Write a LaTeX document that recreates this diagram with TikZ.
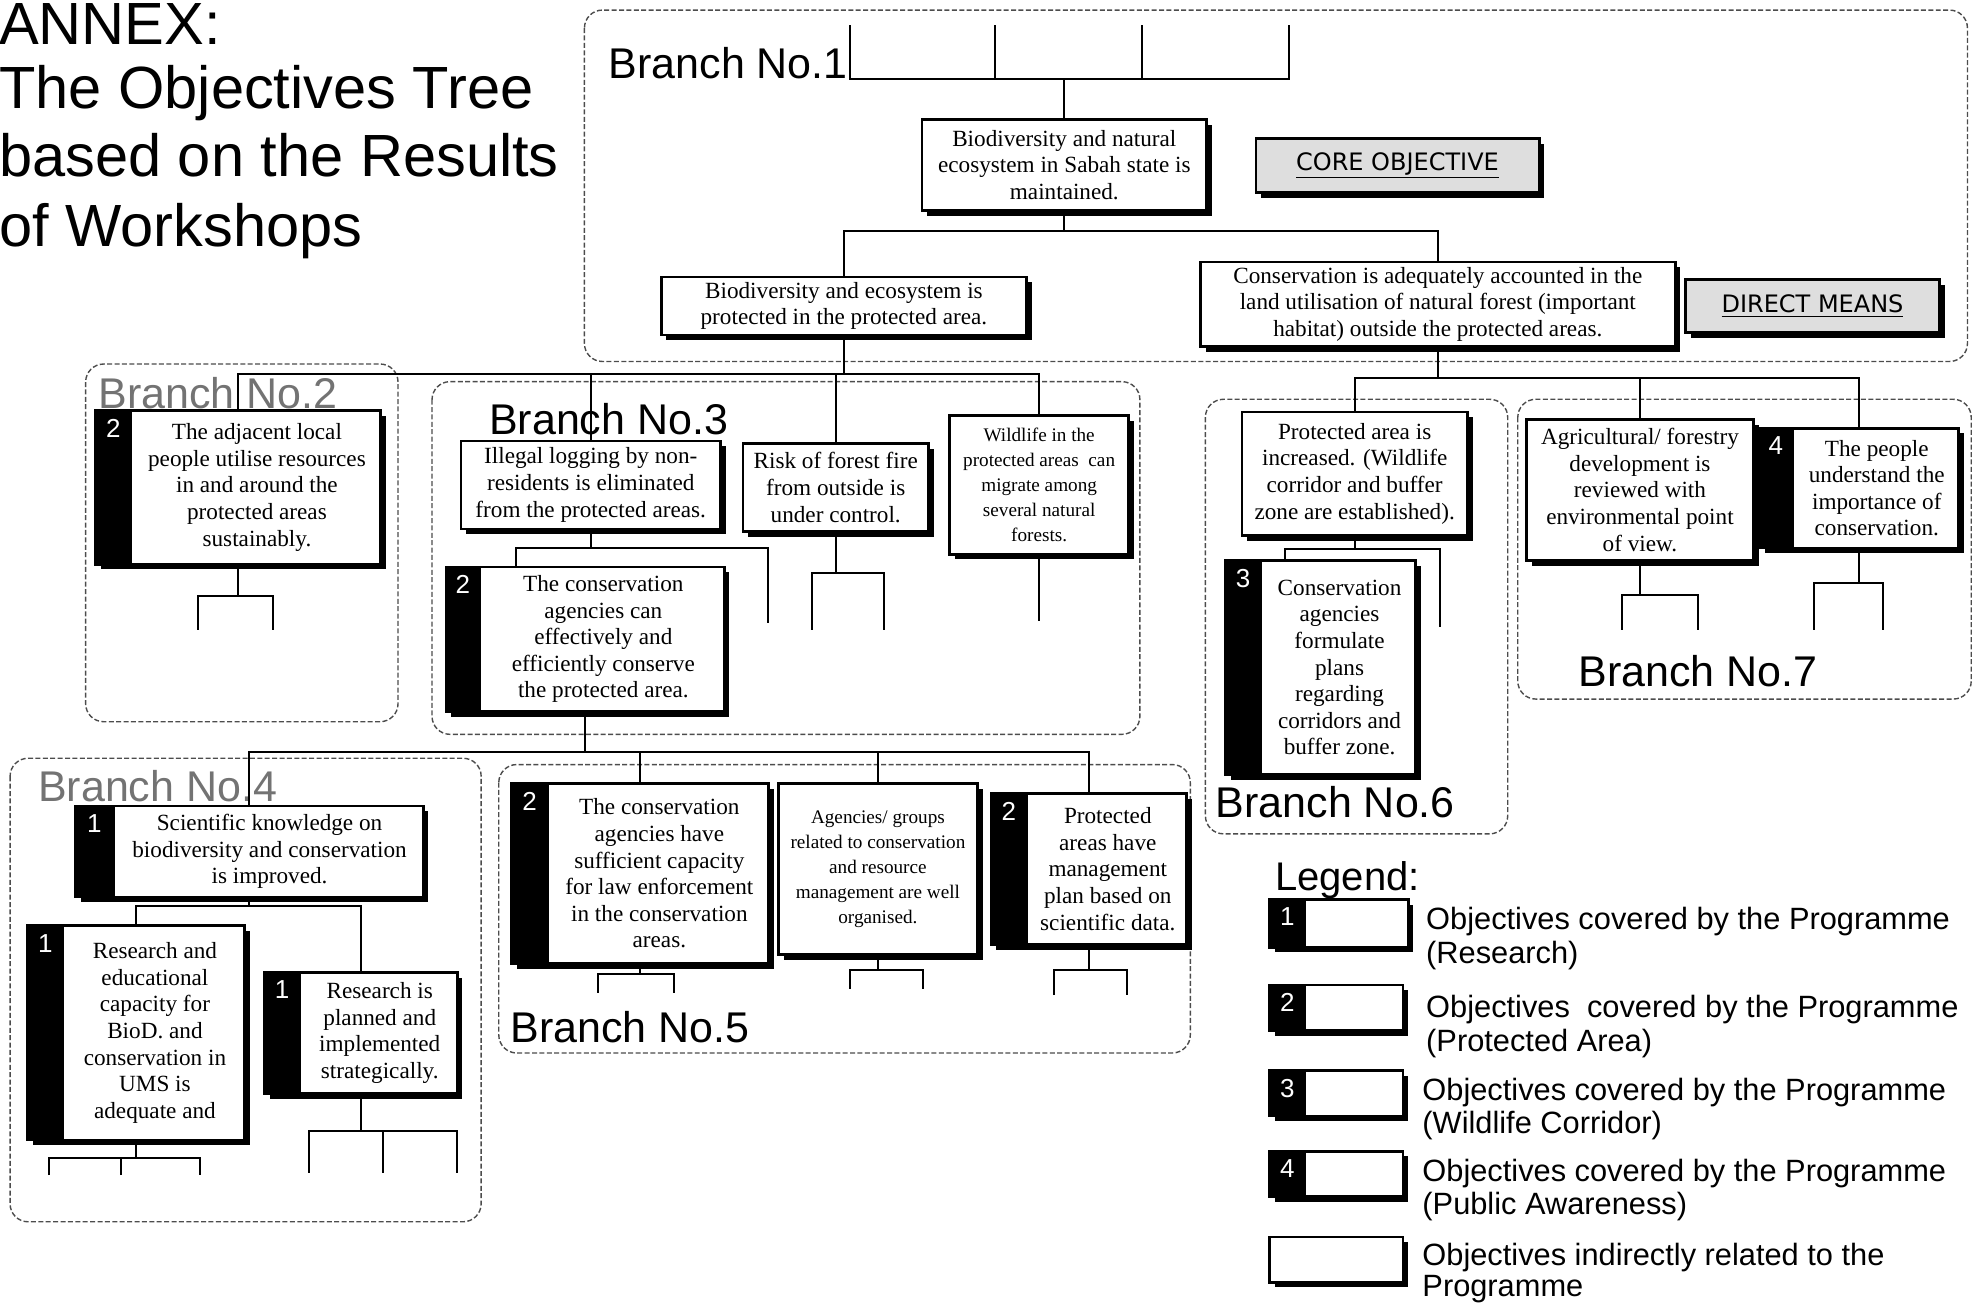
\documentclass[tikz,border=0pt]{standalone}
\usepackage{fontspec}
\setmainfont{Liberation Serif}
\setsansfont{Liberation Sans}
\newfontfamily\dejavufont{DejaVu Sans}
\usetikzlibrary{shadows}
\newcommand\unitpx{0.63pt}
\newcommand\objfont{\fontsize{11.6}{13.3}\selectfont}
\newcommand\objsmall{\fontsize{9.6}{12.6}\selectfont}
\tikzset{
  objbox/.style={draw, line width=1.3pt, fill=white, inner sep=0pt,
    drop shadow={shadow xshift=2.6pt, shadow yshift=-2.6pt, fill=black, opacity=1}},
  objtext/.style={align=center, inner sep=0pt},
  numlabel/.style={text=white, font=\sffamily\fontsize{13}{13}\selectfont, inner sep=0pt},
  conn/.style={line width=1pt},
  branchbox/.style={draw=black!70, line width=0.7pt, dash pattern=on 2.5pt off 1.2pt, rounded corners=9pt},
  branchlabel/.style={font=\sffamily\fontsize{21.5}{21.5}\selectfont, anchor=base west, inner sep=0pt},
  hollowlabel/.style={branchlabel, text=black!55},
  titletext/.style={font=\sffamily\fontsize{29.8}{29.8}\selectfont, anchor=base west, inner sep=0pt},
  legtext/.style={font=\sffamily\fontsize{15.4}{15.4}\selectfont, anchor=base west, inner sep=0pt},
  meansbox/.style={draw, line width=1.3pt, fill=black!13, inner sep=0pt,
    font=\dejavufont\fontsize{12}{12}\selectfont,
    drop shadow={shadow xshift=2.6pt, shadow yshift=-2.6pt, fill=black, opacity=1}}
}
% name, x1, y1, x2, y2, strip width, number, text, font
\newcommand\objnode[9]{%
  \node[objbox, minimum width={(#4-#2)*\unitpx}, minimum height={(#5-#3)*\unitpx}] (#1) at ({(#2+#4)/2},{(#3+#5)/2}) {};
  \ifnum#6>0
    \fill ([xshift=0.3pt,yshift=-0.3pt]#1.north west) rectangle ([xshift=#6*\unitpx,yshift=0.3pt]#1.south west);
    \node[numlabel] at ([xshift=#6*\unitpx/2, yshift=-15*\unitpx]#1.north west) {#7};
  \fi
  \node[objtext, font=#9] (#1-t) at ({(#2+#4+#6)/2},{(#3+#5)/2}) {#8};
}
\begin{document}
\begin{tikzpicture}[x=\unitpx, y=-\unitpx]
\useasboundingbox (0,0) rectangle (1568,1034);

% title
\node[titletext] (title1) at (-1,35) {ANNEX:};
\node[titletext] (title2) at (-1,86) {The Objectives Tree};
\node[titletext] (title3) at (-1,140) {based on the Results};
\node[titletext] (title4) at (-1,196) {of Workshops};

% branch frames
\draw[branchbox] (464,8) rectangle (1562,287);
\draw[branchbox] (68,289) rectangle (316,573);
\draw[branchbox] (343,303) rectangle (905,583);
\draw[branchbox] (8,602) rectangle (382,970);
\draw[branchbox] (396,607) rectangle (945,836);
\draw[branchbox] (957,317) rectangle (1197,662);
\draw[branchbox] (1205,317) rectangle (1565,555);

% branch labels
\node[branchlabel] (bl1) at (483,62) {Branch No.1};
\node[hollowlabel] (bl2) at (78,324) {Branch No.2};
\node[branchlabel] (bl3) at (388,345) {Branch No.3};
\node[hollowlabel] (bl4) at (30,636) {Branch No.4};
\node[branchlabel] (bl5) at (405,828) {Branch No.5};
\node[branchlabel] (bl6) at (965,649) {Branch No.6};
\node[branchlabel] (bl7) at (1253,545) {Branch No.7};

% objective nodes
\objnode{core}{732}{95}{958}{167}{0}{}{Biodiversity and natural\\ecosystem in Sabah state is\\maintained.}{\objfont}
\objnode{BE}{525}{220}{815}{266}{0}{}{Biodiversity and ecosystem is\\protected in the protected area.}{\objfont}
\objnode{CA}{953}{208}{1330}{275}{0}{}{Conservation is adequately accounted in the\\land utilisation of natural forest (important\\habitat) outside the protected areas.}{\objfont}
\objnode{B2}{76}{326}{302}{448}{30}{2}{The adjacent local\\people utilise resources\\in and around the\\protected areas\\sustainably.}{\objfont}
\objnode{IL}{366}{350}{572}{420}{0}{}{Illegal logging by non-\\residents is eliminated\\from the protected areas.}{\objfont}
\objnode{RF}{590}{352}{737}{422}{0}{}{Risk of forest fire\\from outside is\\under control.}{\objfont}
\objnode{WL}{754}{330}{896}{440}{0}{}{Wildlife in the\\protected areas~~can\\migrate among\\several natural\\forests.}{\objsmall}
\objnode{CAE}{354}{450}{575}{565}{29}{2}{The conservation\\agencies can\\effectively and\\efficiently conserve\\the protected area.}{\objfont}
\objnode{SK}{60}{640}{336}{712}{32}{1}{Scientific knowledge on\\biodiversity and conservation\\is improved.}{\objfont}
\objnode{RC}{22}{735}{194}{905}{30}{1}{Research and\\educational\\capacity for\\BioD. and\\conservation in\\UMS is\\adequate and}{\objfont}
\objnode{RP}{210}{772}{363}{868}{30}{1}{Research is\\planned and\\implemented\\strategically.}{\objfont}
\objnode{LE}{406}{622}{610}{765}{31}{2}{The conservation\\agencies have\\sufficient capacity\\for law enforcement\\in the conservation\\areas.}{\objfont}
\objnode{AG}{618}{622}{776}{758}{0}{}{Agencies/ groups\\related to conservation\\and resource\\management are well\\organised.}{\objsmall}
\objnode{PM}{787}{630}{942}{750}{30}{2}{Protected\\areas have\\management\\plan based on\\scientific data.}{\objfont}
\objnode{PI}{986}{327}{1165}{425}{0}{}{Protected area is\\increased. (Wildlife\\corridor and buffer\\zone are established).}{\objfont}
\objnode{CF}{973}{445}{1124}{615}{30}{3}{Conservation\\agencies\\formulate\\plans\\regarding\\corridors and\\buffer zone.}{\objfont}
\objnode{AF}{1212}{333}{1392}{445}{0}{}{Agricultural/ forestry\\development is\\reviewed with\\environmental point\\of view.}{\objfont}
\objnode{PU}{1397}{340}{1555}{435}{28}{4}{The people\\understand the\\importance of\\conservation.}{\objfont}

% means labels
\node[meansbox, minimum width={225*\unitpx}, minimum height={43*\unitpx}] (coreobj) at (1109.5,131.5) {\underline{CORE OBJECTIVE}};
\node[meansbox, minimum width={202*\unitpx}, minimum height={42*\unitpx}] (direct) at (1439,243) {\underline{DIRECT MEANS}};

% ---- connectors ----
% top comb above core objective
\coordinate (topbus) at (845,63);
\coordinate (c1) at (675,20);
\coordinate (c2) at (790,20);
\coordinate (c3) at (907,20);
\coordinate (c4) at (1023,20);
\draw[conn] (c1) |- (topbus) -| (c4);
\draw[conn] (c2) -- (c2 |- topbus);
\draw[conn] (c3) -- (c3 |- topbus);
\draw[conn] (topbus) -- (core.north);

% core -> BE, CA
\coordinate (bus1) at (845,183);
\draw[conn] (core.south) -- (bus1);
\draw[conn] (BE.north) |- (bus1) -| (CA.north);

% BE -> branch 2, 3
\coordinate (bus2) at (670,297);
\draw[conn] (BE.south) -- (bus2);
\draw[conn] (B2.north) |- (bus2) -| (WL.north);
\draw[conn] (IL.north) -- (IL.north |- bus2);
\draw[conn] (RF.north) -- (RF.north |- bus2);

% branch 2 stub
\coordinate (b2bus) at (189,473);
\coordinate (b2a) at (157,500);
\coordinate (b2b) at (217,500);
\draw[conn] (B2.south) -- (b2bus);
\draw[conn] (b2a) |- (b2bus) -| (b2b);

% branch 3
\coordinate (ilbus) at (469,435);
\coordinate (ill) at (410,435);
\coordinate (ilr) at (610,495);
\draw[conn] (IL.south) -- (ilbus);
\draw[conn] (CAE.north -| ill) |- (ilbus) -| (ilr);
\coordinate (rfbus) at (663.5,455);
\coordinate (rfa) at (645,500);
\coordinate (rfb) at (702,500);
\draw[conn] (RF.south) -- (rfbus);
\draw[conn] (rfa) |- (rfbus) -| (rfb);
\coordinate (wle) at (825,493);
\draw[conn] (WL.south) -- (wle);

% CAE -> branch 4, 5
\coordinate (bus3) at (464.5,597);
\draw[conn] (CAE.south) -- (bus3);
\draw[conn] (SK.north) |- (bus3) -| (PM.north);
\draw[conn] (LE.north) -- (LE.north |- bus3);
\draw[conn] (AG.north) -- (AG.north |- bus3);

% branch 4
\coordinate (skbus) at (198,719);
\draw[conn] (SK.south) -- (skbus);
\draw[conn] (RC.north) |- (skbus) -| (RP.north);
\coordinate (rcbus) at (108,919);
\coordinate (rca) at (39,933);
\coordinate (rcm) at (96,933);
\coordinate (rcb) at (159,933);
\draw[conn] (RC.south) -- (rcbus);
\draw[conn] (rca) |- (rcbus) -| (rcb);
\draw[conn] (rcm) -- (rcm |- rcbus);
\coordinate (rpbus) at (286.5,898);
\coordinate (rpa) at (245,931);
\coordinate (rpm) at (304,931);
\coordinate (rpb) at (363,931);
\draw[conn] (RP.south) -- (rpbus);
\draw[conn] (rpa) |- (rpbus) -| (rpb);
\draw[conn] (rpm) -- (rpm |- rpbus);

% branch 5 stubs
\coordinate (lebus) at (508,773);
\coordinate (lea) at (475,788);
\coordinate (leb) at (535,788);
\draw[conn] (LE.south) -- (lebus);
\draw[conn] (lea) |- (lebus) -| (leb);
\coordinate (agbus) at (697,770);
\coordinate (aga) at (675,785);
\coordinate (agb) at (733,785);
\draw[conn] (AG.south) -- (agbus);
\draw[conn] (aga) |- (agbus) -| (agb);
\coordinate (pmbus) at (864.5,770);
\coordinate (pma) at (837,790);
\coordinate (pmb) at (895,790);
\draw[conn] (PM.south) -- (pmbus);
\draw[conn] (pma) |- (pmbus) -| (pmb);

% CA -> branch 6, 7
\coordinate (bus4) at (1141.5,300);
\draw[conn] (CA.south) -- (bus4);
\draw[conn] (PI.north) |- (bus4) -| (PU.north);
\draw[conn] (AF.north) -- (AF.north |- bus4);

% branch 6
\coordinate (pibus) at (1075.5,436);
\coordinate (pil) at (1020,436);
\coordinate (pir) at (1143,498);
\draw[conn] (PI.south) -- (pibus);
\draw[conn] (CF.north -| pil) |- (pibus) -| (pir);

% branch 7 stubs
\coordinate (afbus) at (1302,472);
\coordinate (afa) at (1288,500);
\coordinate (afb) at (1348,500);
\draw[conn] (AF.south) -- (afbus);
\draw[conn] (afa) |- (afbus) -| (afb);
\coordinate (pubus) at (1476,463);
\coordinate (pua) at (1440,500);
\coordinate (pub) at (1495,500);
\draw[conn] (PU.south) -- (pubus);
\draw[conn] (pua) |- (pubus) -| (pub);

% legend
\node[font=\sffamily\fontsize{20}{20}\selectfont, anchor=base west, inner sep=0pt] (legtitle) at (1012,707) {Legend:};
\objnode{leg1}{1008}{714}{1118}{752}{30}{1}{}{\objfont}
\objnode{leg2}{1008}{782}{1114}{818}{30}{2}{}{\objfont}
\objnode{leg3}{1008}{850}{1114}{886}{30}{3}{}{\objfont}
\objnode{leg4}{1008}{914}{1114}{950}{30}{4}{}{\objfont}
\objnode{leg5}{1008}{982}{1114}{1018}{0}{}{}{\objfont}
\node[legtext] (l1a) at (1132,738) {Objectives covered by the Programme};
\node[legtext] (l1b) at (1132,765) {(Research)};
\node[legtext] (l2a) at (1132,808) {Objectives~~covered by the Programme};
\node[legtext] (l2b) at (1132,835) {(Protected Area)};
\node[legtext] (l3a) at (1129,874) {Objectives covered by the Programme};
\node[legtext] (l3b) at (1129,900) {(Wildlife Corridor)};
\node[legtext] (l4a) at (1129,938) {Objectives covered by the Programme};
\node[legtext] (l4b) at (1129,964) {(Public Awareness)};
\node[legtext] (l5a) at (1129,1005) {Objectives indirectly related to the};
\node[legtext] (l5b) at (1129,1029) {Programme};
\end{tikzpicture}
\end{document}
